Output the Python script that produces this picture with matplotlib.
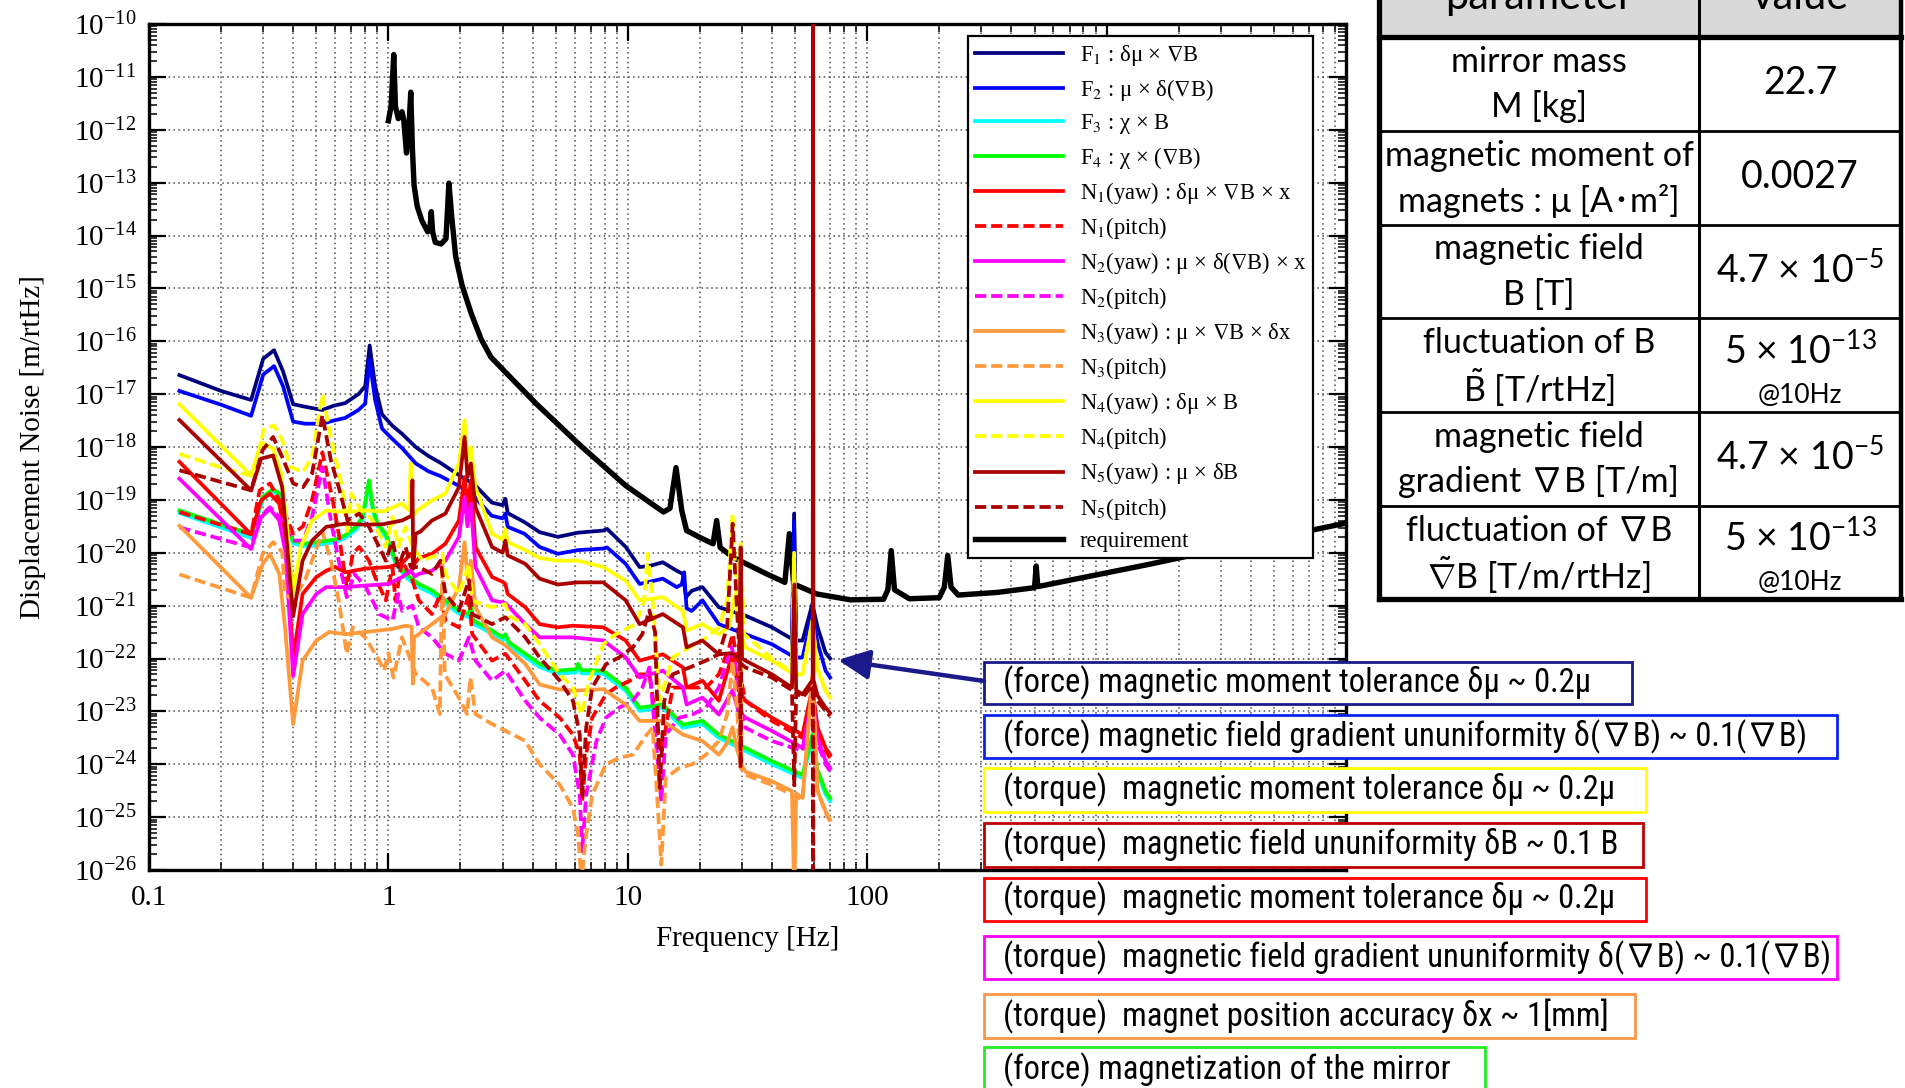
import numpy as np
import matplotlib
matplotlib.use("Agg")
import matplotlib.pyplot as plt
from matplotlib import font_manager
from matplotlib.font_manager import FontProperties
from matplotlib.patches import Rectangle, FancyArrowPatch
from matplotlib.lines import Line2D
from matplotlib.ticker import LogLocator, FuncFormatter, NullFormatter

# ---------------------------------------------------------------------------
# DATA  (frequency in Hz ; noise given as log10 of displacement [m/rtHz])
# ---------------------------------------------------------------------------
f_req = [1.0, 1.026, 1.053, 1.07, 1.10, 1.14, 1.16, 1.19, 1.22, 1.24, 1.26, 1.28, 1.32, 1.38, 1.46, 1.49,
         1.51, 1.53, 1.57, 1.66, 1.74, 1.79, 1.84, 1.91, 2.03, 2.22, 2.44, 2.68, 3.06, 4.14, 6.4, 9.8,
         14.1, 15.0, 15.9, 16.8, 17.6, 20.0, 22.7, 23.5, 24.3, 27.6, 38, 45.3, 47.3, 49.3, 61.6, 85,
         117, 122, 126, 130, 150, 200, 210, 217, 224, 240, 350, 500, 508, 516, 700, 1000, 1500, 2000,
         3000, 5000, 8000, 10000]
v_req = [-11.83, -11.56, -10.58, -11.56, -11.79, -11.66, -11.83, -12.44, -11.9, -11.29, -12.37, -13.05,
         -13.45, -13.72, -13.93, -13.9, -13.55, -13.93, -14.13, -14.16, -14.06, -13.01, -13.66, -14.40,
         -14.94, -15.48, -15.96, -16.30, -16.57, -17.18, -17.99, -18.73, -19.23, -19.16, -18.39, -19.2,
         -19.58, -19.71, -19.83, -19.39, -19.9, -20.09, -20.4, -20.56, -19.64, -20.59, -20.78, -20.89,
         -20.88, -20.7, -19.96, -20.7, -20.87, -20.85, -20.65, -20.05, -20.65, -20.80, -20.75, -20.66,
         -20.25, -20.64, -20.52, -20.38, -20.22, -20.10, -19.93, -19.72, -19.53, -19.44]

f_F1 = [0.134, 0.20, 0.267, 0.30, 0.333, 0.363, 0.40, 0.45, 0.53, 0.59, 0.66, 0.75, 0.80, 0.835, 0.88,
        0.94, 1.04, 1.14, 1.3, 1.47, 1.65, 2.0, 2.3, 2.7, 3.0, 3.08, 3.15, 3.7, 4.28, 5.1, 6.2, 7.9, 8.2,
        9.8, 11.2, 12.3, 14.0, 16.0, 17.0, 17.5, 18.5, 20.5, 24.0, 31, 40, 48.5, 49.5, 50.5, 53.7, 59.0,
        62, 67, 70]
v_F1 = [-16.64, -16.94, -17.11, -16.33, -16.17, -16.57, -17.19, -17.24, -17.3, -17.22, -17.17, -17.0,
        -16.85, -16.08, -16.84, -17.38, -17.6, -17.75, -18.0, -18.17, -18.3, -18.55, -18.72, -19.05,
        -19.1, -18.98, -19.25, -19.42, -19.61, -19.7, -19.62, -19.58, -19.55, -19.89, -20.27, -20.25,
        -20.18, -20.34, -20.4, -20.84, -20.72, -20.65, -21.03, -21.19, -21.41, -21.63, -19.26, -21.66,
        -21.66, -20.97, -21.4, -21.89, -22.0]

f_F2 = [0.134, 0.20, 0.267, 0.30, 0.333, 0.363, 0.40, 0.45, 0.53, 0.59, 0.66, 0.75, 0.80, 0.835, 0.88,
        0.94, 1.04, 1.14, 1.3, 1.47, 1.65, 2.0, 2.3, 2.7, 3.0, 3.08, 3.15, 3.7, 4.28, 5.1, 6.2, 7.9, 8.2,
        9.8, 11.2, 12.3, 14.0, 16.0, 16.8, 17.2, 17.6, 18.5, 20.5, 24.0, 31, 40, 48.5, 49.5, 50.5, 53.7,
        59.0, 62, 67, 70]
v_F2 = [-16.94, -17.2, -17.41, -16.63, -16.47, -16.85, -17.52, -17.56, -17.56, -17.5, -17.45, -17.3,
        -17.18, -16.36, -17.11, -17.65, -17.85, -18.02, -18.31, -18.46, -18.55, -18.75, -18.95, -19.3,
        -19.35, -19.26, -19.51, -19.64, -19.89, -20.02, -19.95, -19.92, -19.9, -20.21, -20.59, -20.55,
        -20.49, -20.65, -20.6, -20.37, -21.05, -21.1, -20.9, -21.35, -21.54, -21.73, -21.95, -19.4,
        -21.98, -21.98, -21.16, -21.7, -22.23, -22.36]

f_F34 = [0.134, 0.267, 0.298, 0.33, 0.35, 0.37, 0.40, 0.44, 0.50, 0.60, 0.66, 0.73, 0.78, 0.83, 0.86,
         0.90, 0.975, 1.07, 1.18, 1.34, 1.52, 1.73, 1.97, 2.17, 2.21, 2.26, 2.71, 3.0, 3.08, 3.2, 3.73,
         4.28, 5.1, 6.1, 6.2, 6.4, 7.9, 9.8, 11.2, 14.0, 17.0, 20.5, 24.0, 31, 40, 53.7, 59.0, 62, 67, 70]
v_F3 = [-19.25, -19.72, -19.0, -18.84, -18.93, -19.56, -19.82, -19.88, -19.86, -19.8, -19.72, -19.57,
        -19.38, -18.7, -19.2, -19.5, -19.7, -20.2, -20.46, -20.65, -20.77, -20.96, -21.15, -21.22,
        -21.05, -21.34, -21.53, -21.66, -21.6, -21.76, -21.97, -22.16, -22.29, -22.26, -22.17, -22.28,
        -22.29, -22.61, -22.99, -22.93, -23.31, -23.24, -23.5, -23.75, -24.0, -24.26, -23.52, -24.16,
        -24.57, -24.7]
v_F4 = [-19.2, -19.65, -18.95, -18.79, -18.88, -19.51, -19.77, -19.83, -19.8, -19.75, -19.67, -19.51,
        -19.32, -18.63, -19.14, -19.45, -19.64, -20.15, -20.4, -20.59, -20.71, -20.9, -21.09, -21.16,
        -20.97, -21.28, -21.47, -21.6, -21.54, -21.7, -21.91, -22.1, -22.23, -22.2, -22.1, -22.22,
        -22.23, -22.55, -22.93, -22.87, -23.25, -23.18, -23.44, -23.69, -23.94, -24.2, -23.44, -24.1,
        -24.51, -24.64]

f_N1y = [0.134, 0.267, 0.294, 0.32, 0.35, 0.372, 0.40, 0.438, 0.50, 0.55, 0.60, 0.66, 0.80, 1.0, 1.14,
         1.24, 1.29, 1.34, 1.52, 1.73, 1.97, 2.08, 2.14, 2.21, 2.31, 2.71, 3.0, 3.08, 3.15, 3.73, 4.28,
         5.1, 5.9, 7.9, 9.8, 11.2, 14.0, 17.0, 17.6, 20.5, 24.0, 27.4, 29.0, 31, 40, 53.7, 59.0, 62, 67, 70]
v_N1y = [-18.28, -19.65, -19.01, -18.88, -19.07, -19.7, -22.0, -20.78, -20.46, -20.34, -20.27, -20.37,
         -20.3, -20.27, -20.2, -20.02, -20.2, -20.1, -20.02, -19.83, -19.39, -18.57, -19.2, -18.63,
         -19.89, -20.46, -20.55, -20.59, -20.78, -21.03, -21.35, -21.41, -21.38, -21.41, -21.66, -22.04,
         -21.92, -22.17, -22.55, -22.42, -22.8, -21.9, -22.6, -22.8, -23.12, -23.44, -22.55, -23.3,
         -23.69, -23.82]

f_N1p = [0.134, 0.267, 0.29, 0.32, 0.35, 0.40, 0.44, 0.48, 0.53, 0.585, 0.62, 0.67, 0.71, 0.755, 0.83,
         0.88, 0.975, 1.04, 1.07, 1.14, 1.26, 1.34, 1.52, 1.65, 1.73, 1.97, 2.17, 2.24, 2.71, 3.08, 3.73,
         4.28, 5.2, 5.9, 6.3, 6.45, 6.7, 7.1, 8.1, 8.9, 10.2, 11.2, 12.3, 13.8, 15.4, 18.1, 21.2, 24.0,
         26.5, 27.4, 29.0, 31, 40, 53.7, 59.0, 62, 67, 70]
v_N1p = [-19.23, -19.65, -18.82, -18.69, -19.0, -19.64, -19.5, -19.0, -18.1, -19.0, -19.64, -20.65,
         -20.02, -19.89, -20.15, -20.46, -20.9, -20.27, -20.9, -20.15, -20.52, -20.9, -21.16, -20.78,
         -21.28, -21.41, -20.78, -21.54, -22.04, -21.91, -22.42, -22.8, -23.12, -23.44, -23.82, -24.7,
         -23.82, -23.12, -22.68, -22.55, -22.42, -22.3, -22.3, -23.8, -22.55, -22.55, -22.55, -22.3,
         -21.79, -21.54, -22.17, -22.8, -23.18, -23.5, -22.62, -23.35, -23.75, -23.88]

f_N2y = [0.134, 0.267, 0.294, 0.32, 0.35, 0.372, 0.40, 0.438, 0.50, 0.55, 0.66, 0.80, 1.0, 1.14, 1.24,
         1.29, 1.34, 1.52, 1.73, 1.97, 2.08, 2.14, 2.21, 2.31, 2.71, 3.08, 3.73, 4.28, 5.1, 5.9, 7.9, 9.8,
         11.2, 14.0, 17.0, 17.6, 20.5, 24.0, 27.4, 29.0, 31, 40, 53.7, 59.0, 62, 67, 70]
v_N2y = [-18.6, -19.93, -19.33, -19.17, -19.39, -20.0, -22.33, -21.16, -20.78, -20.65, -20.65, -20.62,
         -20.59, -20.46, -20.34, -20.45, -20.4, -20.34, -20.15, -19.7, -18.95, -19.5, -19.07, -20.27,
         -20.9, -20.95, -21.35, -21.6, -21.6, -21.6, -21.66, -21.98, -22.36, -22.23, -22.55, -22.87,
         -22.74, -23.06, -22.6, -23.0, -23.12, -23.37, -23.69, -22.74, -23.5, -23.94, -24.07]

f_N2p = [0.134, 0.267, 0.29, 0.32, 0.35, 0.40, 0.44, 0.48, 0.53, 0.575, 0.62, 0.67, 0.72, 0.805, 0.915,
         1.04, 1.1, 1.14, 1.26, 1.34, 1.52, 1.73, 1.97, 2.17, 2.31, 2.71, 3.08, 3.73, 4.28, 5.2, 5.9, 6.3,
         6.45, 6.7, 7.4, 8.1, 9.2, 10.5, 11.5, 12.3, 13.8, 14.4, 16.4, 18.6, 21.2, 24.0, 26.0, 27.2, 28.3,
         29.6, 31, 40, 53.7, 59.0, 62, 67, 70]
v_N2p = [-19.52, -19.9, -19.32, -19.14, -19.32, -19.77, -19.77, -19.32, -18.38, -19.39, -20.15, -20.84,
         -20.4, -20.65, -21.16, -21.28, -20.78, -21.1, -21.0, -21.41, -21.6, -21.91, -22.04, -21.6,
         -22.04, -22.42, -22.23, -22.8, -23.12, -23.44, -23.82, -24.58, -25.65, -24.58, -23.56, -23.12,
         -22.93, -22.8, -22.55, -22.17, -24.7, -23.44, -23.12, -23.06, -22.93, -22.55, -22.04, -21.79,
         -22.17, -22.93, -23.31, -23.56, -23.75, -22.8, -23.6, -24.0, -24.13]

f_N3y = [0.134, 0.267, 0.298, 0.32, 0.35, 0.37, 0.40, 0.438, 0.50, 0.566, 0.66, 0.80, 0.915, 1.04, 1.18,
         1.25, 1.265, 1.28, 1.34, 1.52, 1.73, 1.97, 2.08, 2.14, 2.21, 2.31, 2.71, 3.08, 3.73, 4.28, 5.1,
         5.9, 7.9, 9.8, 11.2, 14.0, 17.0, 20.5, 24.0, 26.0, 27.4, 28.5, 29.4, 29.6, 29.8, 31, 40, 48.5,
         49.6, 50.5, 53.7, 59.2, 62, 67, 70]
v_N3y = [-19.49, -20.85, -20.22, -20.02, -20.4, -21.41, -23.24, -22.04, -21.66, -21.5, -21.54, -21.5,
         -21.47, -21.44, -21.38, -21.4, -22.48, -21.6, -21.54, -21.35, -21.16, -20.65, -19.8, -20.5,
         -20.15, -21.03, -21.6, -21.75, -22.1, -22.49, -22.58, -22.61, -22.58, -22.87, -23.18, -23.18,
         -23.44, -23.56, -23.82, -23.6, -23.3, -23.7, -23.9, -22.1, -24.0, -24.14, -24.32, -24.51, -26.5,
         -24.55, -24.64, -22.3, -24.5, -24.89, -25.05]

f_N3p = [0.134, 0.267, 0.298, 0.33, 0.36, 0.37, 0.40, 0.45, 0.53, 0.575, 0.62, 0.67, 0.71, 0.80, 0.915,
         0.96, 1.0, 1.05, 1.14, 1.3, 1.52, 1.64, 1.68, 1.72, 1.97, 2.13, 2.2, 2.31, 2.71, 3.73, 4.28, 5.2,
         5.9, 6.2, 6.4, 6.7, 7.1, 8.1, 9.2, 10.5, 12.0, 12.7, 13.3, 13.8, 14.4, 16.4, 18.6, 21.2, 24.0,
         26.0, 27.4, 28.7, 29.6, 31, 40, 53.7, 59.0, 62, 67, 70]
v_N3p = [-20.41, -20.85, -20.03, -19.8, -19.99, -20.78, -20.9, -20.5, -19.6, -20.15, -20.9, -21.91,
         -21.41, -21.6, -22.04, -22.23, -21.9, -22.36, -21.6, -22.29, -22.55, -23.05, -20.2, -22.3,
         -22.74, -23.05, -22.36, -23.05, -23.24, -23.56, -24.0, -24.39, -24.83, -25.34, -26.2, -25.34,
         -24.58, -24.0, -23.88, -23.82, -23.44, -23.31, -24.7, -25.9, -24.26, -24.07, -24.0, -23.82,
         -23.56, -23.06, -22.04, -23.06, -24.07, -24.2, -24.39, -24.67, -22.35, -24.5, -24.92, -25.08]

f_N4y = [0.134, 0.267, 0.294, 0.33, 0.356, 0.374, 0.40, 0.43, 0.48, 0.55, 0.66, 0.80, 0.95, 1.14, 1.22,
         1.24, 1.26, 1.32, 1.52, 1.73, 1.97, 2.08, 2.14, 2.21, 2.31, 2.71, 3.0, 3.08, 3.15, 3.73, 4.28,
         5.1, 6.2, 7.9, 9.8, 11.2, 14.0, 17.0, 17.6, 20.5, 24.0, 26.5, 28.0, 29.5, 31, 40, 48.5, 49.5,
         50.5, 53.7, 59.0, 62, 67, 70]
v_N4y = [-17.19, -18.54, -17.91, -18.03, -18.5, -19.33, -20.78, -19.89, -19.39, -19.2, -19.23, -19.2,
         -19.22, -19.07, -19.2, -18.31, -19.32, -19.2, -19.01, -18.88, -18.31, -17.49, -18.25, -18.0,
         -18.76, -19.64, -19.75, -19.55, -19.8, -19.95, -20.1, -20.15, -20.15, -20.27, -20.53, -20.9,
         -20.84, -21.1, -21.47, -21.35, -21.54, -21.4, -20.8, -21.5, -21.79, -22.04, -22.28, -20.0, -22.3,
         -22.3, -21.28, -22.2, -22.61, -22.74]

f_N4p = [0.134, 0.217, 0.267, 0.294, 0.30, 0.333, 0.36, 0.39, 0.44, 0.48, 0.53, 0.575, 0.64, 0.675,
         0.70, 0.755, 0.86, 0.975, 1.04, 1.1, 1.18, 1.26, 1.39, 1.52, 1.68, 1.73, 1.97, 2.17, 2.24, 2.71,
         3.08, 3.2, 3.73, 4.28, 5.2, 5.9, 6.4, 6.9, 7.9, 8.9, 10.8, 11.7, 12.1, 12.7, 13.6, 15.4, 18.1,
         20.5, 24.0, 26.0, 27.4, 28.5, 29.6, 30.6, 40, 48.5, 49.5, 50.5, 53.7, 59.0, 62, 67, 70]
v_N4p = [-18.13, -18.44, -18.54, -17.94, -17.68, -17.59, -17.87, -18.38, -18.47, -18.19, -17.0, -17.81,
         -18.76, -19.64, -18.88, -19.14, -19.39, -19.89, -19.32, -19.89, -19.51, -19.89, -20.15, -20.08,
         -20.02, -20.4, -20.78, -20.21, -20.91, -21.03, -20.97, -21.2, -21.35, -21.73, -22.3, -22.55,
         -23.06, -22.42, -21.73, -21.54, -21.35, -20.9, -20.02, -20.9, -22.8, -21.98, -21.79, -21.66,
         -21.41, -20.9, -19.26, -20.9, -19.83, -21.54, -22.0, -22.25, -20.1, -22.3, -22.3, -21.3, -22.2,
         -22.6, -22.72]

f_N5y = [0.134, 0.267, 0.294, 0.33, 0.36, 0.40, 0.438, 0.48, 0.55, 0.66, 0.80, 0.95, 1.14, 1.25, 1.26,
         1.27, 1.30, 1.36, 1.52, 1.73, 1.97, 2.08, 2.14, 2.21, 2.31, 2.71, 3.0, 3.08, 3.15, 3.73, 4.28,
         5.1, 6.2, 7.9, 9.8, 11.2, 14.0, 17.0, 17.6, 20.5, 24.0, 27.0, 29.2, 29.6, 30.0, 31, 40, 48.5,
         49.6, 50.5, 53.7, 59.2, 59.4, 59.6, 62, 67, 70]
v_N5y = [-17.49, -18.82, -18.22, -18.16, -18.76, -21.2, -20.15, -19.77, -19.51, -19.45, -19.47, -19.46,
         -19.39, -19.3, -18.63, -20.3, -19.64, -19.6, -19.39, -19.26, -18.76, -17.81, -18.57, -18.31,
         -19.14, -19.89, -20.0, -19.77, -20.05, -20.21, -20.49, -20.6, -20.56, -20.56, -20.9, -21.35,
         -21.16, -21.41, -21.79, -21.66, -21.92, -21.9, -22.0, -19.9, -22.0, -22.04, -22.3, -22.55, -20.6,
         -22.6, -22.68, -22.4, -8.0, -22.4, -22.7, -22.93, -23.03]

f_N5p = [0.134, 0.267, 0.298, 0.33, 0.36, 0.40, 0.44, 0.48, 0.53, 0.575, 0.62, 0.675, 0.755, 0.83,
         0.915, 0.975, 1.04, 1.1, 1.18, 1.24, 1.34, 1.52, 1.65, 1.73, 1.97, 2.17, 2.24, 2.71, 3.08, 3.73,
         4.28, 5.2, 5.9, 6.3, 6.45, 6.7, 7.1, 8.1, 9.2, 10.5, 11.5, 12.3, 13.0, 13.6, 14.2, 15.4, 18.1,
         21.2, 24.0, 26.0, 27.4, 28.7, 29.4, 29.6, 29.8, 31, 40, 48.5, 49.6, 50.5, 53.7, 59.2, 59.4, 59.6,
         62, 67, 70]
v_N5p = [-18.44, -18.82, -18.06, -17.81, -18.19, -18.69, -18.76, -18.5, -17.4, -18.25, -18.76, -19.39,
         -19.26, -19.51, -19.89, -20.15, -19.77, -20.27, -19.89, -20.27, -20.27, -20.4, -20.15, -20.78,
         -21.09, -20.52, -21.16, -21.35, -21.22, -21.6, -21.98, -22.42, -22.8, -23.44, -24.6, -23.31,
         -22.55, -22.11, -21.98, -21.79, -21.54, -21.09, -21.5, -24.45, -22.8, -22.3, -22.17, -22.04,
         -21.92, -21.41, -19.45, -21.22, -22.0, -24.07, -22.1, -22.17, -22.36, -22.6, -24.4, -22.65,
         -22.74, -22.5, -28.0, -22.5, -22.8, -22.99, -23.09]

legend_labels = [
    "F$_1$ : δμ × $\\nabla$B",
    "F$_2$ : μ × δ($\\nabla$B)",
    "F$_3$ : χ × B",
    "F$_4$ : χ × ($\\nabla$B)",
    "N$_1$(yaw) : δμ × $\\nabla$B × x",
    "N$_1$(pitch)",
    "N$_2$(yaw) : μ × δ($\\nabla$B) × x",
    "N$_2$(pitch)",
    "N$_3$(yaw) : μ × $\\nabla$B × δx",
    "N$_3$(pitch)",
    "N$_4$(yaw) : δμ × B",
    "N$_4$(pitch)",
    "N$_5$(yaw) : μ × δB",
    "N$_5$(pitch)",
    "requirement",
]

# tick labels that are visible (1000 and 10000 are hidden behind the annotation boxes)
x_tick_labels = {0.1: "0.1", 1: "1", 10: "10", 100: "100"}

table_header = ["parameter", "value"]
table_params = [
    ["mirror mass", "M [kg]"],
    ["magnetic moment of", "magnets : μ [A･m²]"],
    ["magnetic field", "B [T]"],
    ["fluctuation of B", "$\\tilde{\\mathrm{B}}$ [T/rtHz]"],
    ["magnetic field", "gradient ∇B [T/m]"],
    ["fluctuation of ∇B", "$\\tilde{\\nabla}$B [T/m/rtHz]"],
]
table_values = [
    ["22.7"],
    ["0.0027"],
    ["4.7 × 10$^{-5}$"],
    ["5 × 10$^{-13}$", "@10Hz"],
    ["4.7 × 10$^{-5}$"],
    ["5 × 10$^{-13}$", "@10Hz"],
]

box_texts = [
    "(force) magnetic moment tolerance δμ ~ 0.2μ",
    "(force) magnetic field gradient ununiformity δ(∇B) ~ 0.1(∇B)",
    "(torque)  magnetic moment tolerance δμ ~ 0.2μ",
    "(torque)  magnetic field ununiformity δB ~ 0.1 B",
    "(torque)  magnetic moment tolerance δμ ~ 0.2μ",
    "(torque)  magnetic field gradient ununiformity δ(∇B) ~ 0.1(∇B)",
    "(torque)  magnet position accuracy δx ~ 1[mm]",
    "(force) magnetization of the mirror",
]

# ---------------------------------------------------------------------------
# FONTS
# ---------------------------------------------------------------------------
avail = {f.name for f in font_manager.fontManager.ttflist}


def pick(*names):
    for n in names:
        if n in avail:
            return n
    return "DejaVu Sans"


SERIF = pick("Liberation Serif", "DejaVu Serif")
TFONT = pick("Lato", "Open Sans", "Noto Sans")
BFONT = pick("Liberation Sans Narrow", "Roboto Condensed", "Lato")
plt.rcParams["font.family"] = [SERIF, "DejaVu Serif"]
plt.rcParams["mathtext.rm"] = TFONT
plt.rcParams["mathtext.it"] = TFONT + ":italic"
plt.rcParams["mathtext.bf"] = TFONT + ":bold"
plt.rcParams["mathtext.sf"] = TFONT

# ---------------------------------------------------------------------------
# FIGURE
# ---------------------------------------------------------------------------
W, H = 1905, 1088
fig = plt.figure(figsize=(W / 100, H / 100), dpi=100)


def fx(x):
    return x / W


def fy(y):
    return 1 - y / H


ax = fig.add_axes([fx(149), fy(870), fx(1346) - fx(149), fy(24) - fy(870)])

DASH = (0, (3.0, 1.3))
series = [
    (f_F1, v_F1, "#000080", "-"),
    (f_F2, v_F2, "#0000ff", "-"),
    (f_F34, v_F3, "#00ffff", "-"),
    (f_F34, v_F4, "#00ff00", "-"),
    (f_N1y, v_N1y, "#ff0000", "-"),
    (f_N1p, v_N1p, "#ff0000", DASH),
    (f_N2y, v_N2y, "#ff00ff", "-"),
    (f_N2p, v_N2p, "#ff00ff", DASH),
    (f_N3y, v_N3y, "#ff9a3c", "-"),
    (f_N3p, v_N3p, "#ff9a3c", DASH),
    (f_N4y, v_N4y, "#ffff00", "-"),
    (f_N4p, v_N4p, "#ffff00", DASH),
    (f_N5y, v_N5y, "#aa0000", "-"),
    (f_N5p, v_N5p, "#aa0000", DASH),
]

handles = []
for (f, v, c, ls) in series:
    ln, = ax.plot(f, 10.0 ** np.asarray(v), color=c, ls=ls, lw=2.7, zorder=3)
    handles.append(ln)
req, = ax.plot(f_req, 10.0 ** np.asarray(v_req), color="black", lw=3.9, zorder=2.6,
               solid_joinstyle="round")
handles.append(req)

ax.set_xscale("log")
ax.set_yscale("log")
ax.set_xlim(0.1, 1e4)
ax.set_ylim(1e-26, 1e-10)
ax.yaxis.set_major_locator(LogLocator(base=10, numticks=40))
ax.yaxis.set_minor_locator(LogLocator(base=10, subs=np.arange(2, 10), numticks=40))
ax.yaxis.set_minor_formatter(NullFormatter())
ax.xaxis.set_major_locator(LogLocator(base=10, numticks=12))
ax.xaxis.set_minor_locator(LogLocator(base=10, subs=np.arange(2, 10), numticks=12))


def xfmt(val, pos):
    for k, s in x_tick_labels.items():
        if abs(val - k) < 1e-6 * k:
            return s
    return ""


ax.xaxis.set_major_formatter(FuncFormatter(xfmt))
ax.xaxis.set_minor_formatter(NullFormatter())

gls = (0, (1, 2.2))
ax.grid(True, which="major", axis="both", color="0.3", ls=gls, lw=1.1)
ax.grid(True, which="minor", axis="x", color="0.3", ls=gls, lw=1.1)

ax.tick_params(which="both", direction="in", top=True, right=True, labelsize=21)
ax.tick_params(which="major", length=12, width=1.6)
ax.tick_params(which="minor", length=6, width=1.1)
ax.tick_params(axis="x", which="major", pad=11)
ax.tick_params(axis="y", which="major", pad=9)
for s in ax.spines.values():
    s.set_linewidth(2.4)

ax.set_ylabel("Displacement Noise [m/rtHz]", fontsize=21)
ax.yaxis.set_label_coords((46 - 149) / 1197, 0.5)
ax.set_xlabel("Frequency [Hz]", fontsize=21)
ax.xaxis.set_label_coords(0.5, -(926 - 870) / 846)

leg = ax.legend(handles, legend_labels, loc="upper left",
                bbox_to_anchor=(fx(968), fy(36)), bbox_transform=fig.transFigure,
                borderaxespad=0, frameon=True, fancybox=False, framealpha=1,
                edgecolor="black",
                prop=FontProperties(family=[SERIF, "DejaVu Serif"], size=16.3, math_fontfamily="stix"),
                handlelength=3.9, handletextpad=0.75, labelspacing=0.40, borderpad=0.3)
leg.get_frame().set_linewidth(1.6)
leg.set_zorder(8)

# ---------------------------------------------------------------------------
# PARAMETER TABLE (figure level)
# ---------------------------------------------------------------------------
TL, TM, TR = 1379, 1699, 1901
row_lines = [36.5, 131, 225, 318, 412, 505.5, 599]
fig.add_artist(Rectangle((fx(TL), fy(36.5)), fx(TR) - fx(TL), fy(-5) - fy(36.5),
                         transform=fig.transFigure, facecolor="#d9d9d9", edgecolor="none", zorder=4))


def fline(x0, y0, x1, y1, lw):
    fig.add_artist(Line2D([fx(x0), fx(x1)], [fy(y0), fy(y1)], transform=fig.transFigure,
                          color="black", lw=lw, solid_capstyle="projecting", zorder=6))


fline(TL, -5, TL, 599, 3.8)
fline(TR, -5, TR, 599, 3.2)
fline(TM, -5, TM, 599, 2.2)
for i, y in enumerate(row_lines):
    fline(TL, y, TR, y, 3.8 if i in (0, len(row_lines) - 1) else 2.0)

tfam = [TFONT, "Noto Sans CJK JP", "DejaVu Sans"]
tkw = dict(family=tfam, ha="center", color="black", zorder=7, math_fontfamily="custom")
cxL, cxR = (TL + TM) / 2, (TM + TR) / 2
fig.text(fx(cxL), fy(9), table_header[0], va="baseline", fontsize=30, **tkw)
fig.text(fx(cxR), fy(9), table_header[1], va="baseline", fontsize=30, **tkw)
for i in range(6):
    y0, y1 = row_lines[i], row_lines[i + 1]
    yc = (y0 + y1) / 2
    l1, l2 = table_params[i]
    fig.text(fx(cxL), fy(yc - 22), l1, va="center", fontsize=24.5, **tkw)
    fig.text(fx(cxL), fy(yc + 23), l2, va="center", fontsize=24.5, **tkw)
    vals = table_values[i]
    if len(vals) == 1:
        fig.text(fx(cxR), fy(yc - 1), vals[0], va="center", fontsize=27, **tkw)
    else:
        fig.text(fx(cxR), fy(yc - 14), vals[0], va="center", fontsize=27, **tkw)
        fig.text(fx(cxR), fy(yc + 30), vals[1], va="center", fontsize=19, **tkw)

# ---------------------------------------------------------------------------
# ANNOTATION BOXES
# ---------------------------------------------------------------------------
box_geom = [
    (984, 661.7, 1631.7, 704, "#1a1a8a"),
    (984, 715, 1836.7, 758, "#0a22ee"),
    (984, 767.7, 1645.6, 811.7, "#ffff00"),
    (984, 823, 1643, 867, "#c00000"),
    (984, 877.7, 1645.6, 920.7, "#ff0000"),
    (984, 935.7, 1836.7, 979.3, "#ff00ff"),
    (984, 994, 1634.5, 1038, "#f79646"),
    (984, 1047, 1484.5, 1100, "#22ee22"),
]
text_centres = [683, 737, 790, 845, 899, 958, 1016, 1070]
bfam = [BFONT, "Noto Sans CJK JP", "DejaVu Sans"]
btexts = []
for (x0, y0, x1, y1, c), t, yc in zip(box_geom, box_texts, text_centres):
    fig.add_artist(Rectangle((fx(x0), fy(y1)), fx(x1) - fx(x0), fy(y0) - fy(y1),
                             transform=fig.transFigure, facecolor="white", edgecolor=c,
                             lw=2.0, zorder=10))
    btexts.append(fig.text(fx(1003), fy(yc), t, ha="left", va="center", fontsize=20,
                           family=bfam, color="black", zorder=11))

fig.canvas.draw()
r = fig.canvas.get_renderer()
wref = btexts[1].get_window_extent(renderer=r).width
scale = 804.0 / wref
for t in btexts:
    t.set_fontsize(20 * scale)

arrow = FancyArrowPatch(posA=(fx(984), fy(681)), posB=(fx(838), fy(660)),
                        transform=fig.transFigure,
                        arrowstyle="-|>,head_length=0.95,head_width=0.45",
                        mutation_scale=20, color="#1a1a8a", lw=3.2,
                        shrinkA=0, shrinkB=0, zorder=12)
fig.add_artist(arrow)

fig.savefig("out.png", dpi=100)
